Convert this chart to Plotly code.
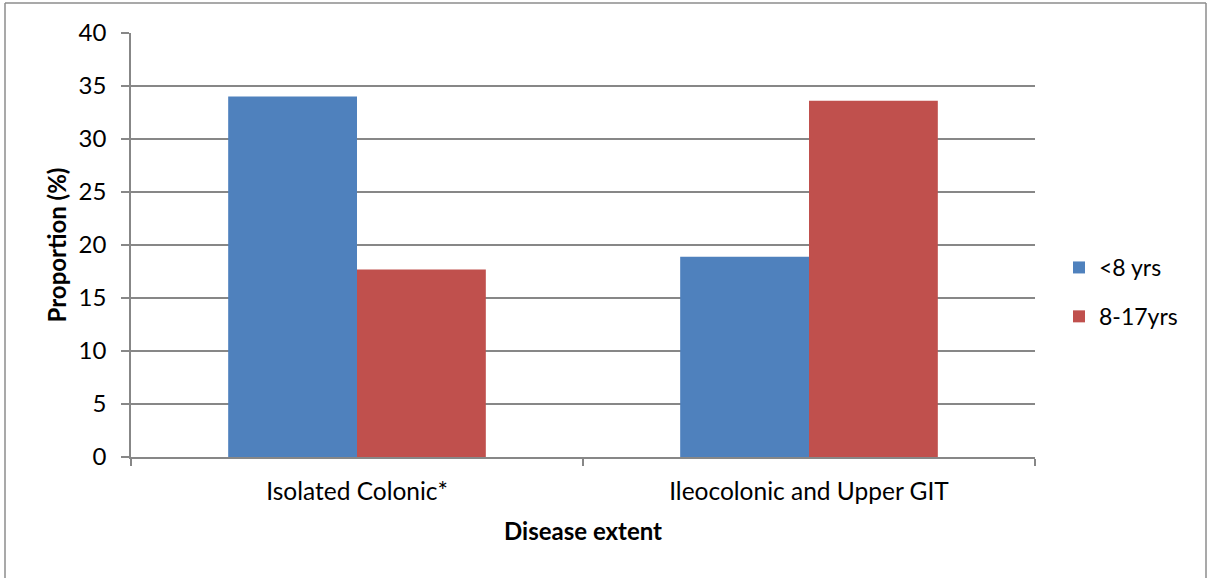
import plotly.graph_objects as go

categories = ["Isolated Colonic*", "Ileocolonic and Upper GIT"]
under8 = [34.0, 18.9]
age8_17 = [17.7, 33.6]
series_names = ["<8 yrs", "8-17yrs"]
y_ticks = [0, 5, 10, 15, 20, 25, 30, 35, 40]

FONT = "Lato, Open Sans, sans-serif"
GRID = "#878787"

fig = go.Figure()
fig.add_trace(go.Bar(x=categories, y=under8, name=series_names[0],
                     marker=dict(color="#4F81BD", line=dict(width=0)),
                     legendgroup="a"))
fig.add_trace(go.Bar(x=categories, y=age8_17, name=series_names[1],
                     marker=dict(color="#C0504D", line=dict(width=0)),
                     legendgroup="b"))

L, R, T, B = 131, 175, 33, 121
W, H = 1210, 578
pw, ph = W - L - R, H - T - B

def px_x(p):
    return (p - L) / pw

def px_y(p):
    return (H - B - p) / ph

fig.update_layout(
    width=W, height=H,
    margin=dict(l=L, r=R, t=T, b=B),
    paper_bgcolor="white", plot_bgcolor="white",
    barmode="group", bargap=0.43, bargroupgap=0,
    font=dict(family=FONT, color="#000000"),
    showlegend=True,
    legend=dict(x=px_x(1059), y=px_y(292), xanchor="left", yanchor="middle",
                font=dict(size=23, family=FONT), tracegroupgap=16,
                bgcolor="rgba(0,0,0,0)"),
    xaxis=dict(
        tickson="boundaries", ticks="outside", ticklen=7, tickcolor=GRID,
        tickwidth=1.5,
        showline=True, linecolor=GRID, linewidth=1.5,
        tickfont=dict(size=24.5, family=FONT),
        ticklabelstandoff=12,
        title=dict(text="<b>Disease extent</b>", font=dict(size=24, family=FONT),
                   standoff=19),
        showgrid=False,
    ),
    yaxis=dict(
        range=[0, 40], tickvals=y_ticks, ticks="outside", ticklen=8,
        tickcolor=GRID, tickwidth=1.5,
        showline=True, linecolor=GRID, linewidth=1.5,
        showgrid=True, gridcolor=GRID, gridwidth=1.5,
        zeroline=False,
        tickfont=dict(size=24, family=FONT),
        ticklabelstandoff=10,
        title=dict(text="<b>Proportion (%)</b>", font=dict(size=24, family=FONT),
                   standoff=5),
    ),
    shapes=[
        dict(type="line", xref="paper", yref="paper",
             x0=px_x(5), x1=px_x(5), y0=px_y(3), y1=px_y(590),
             line=dict(color="#8C8C8C", width=1.5)),
        dict(type="line", xref="paper", yref="paper",
             x0=px_x(1206), x1=px_x(1206), y0=px_y(3), y1=px_y(590),
             line=dict(color="#8C8C8C", width=1.5)),
        dict(type="line", xref="paper", yref="paper",
             x0=px_x(5), x1=px_x(1206), y0=px_y(3), y1=px_y(3),
             line=dict(color="#8C8C8C", width=1.5)),
    ],
)

fig.write_html("out.html")
